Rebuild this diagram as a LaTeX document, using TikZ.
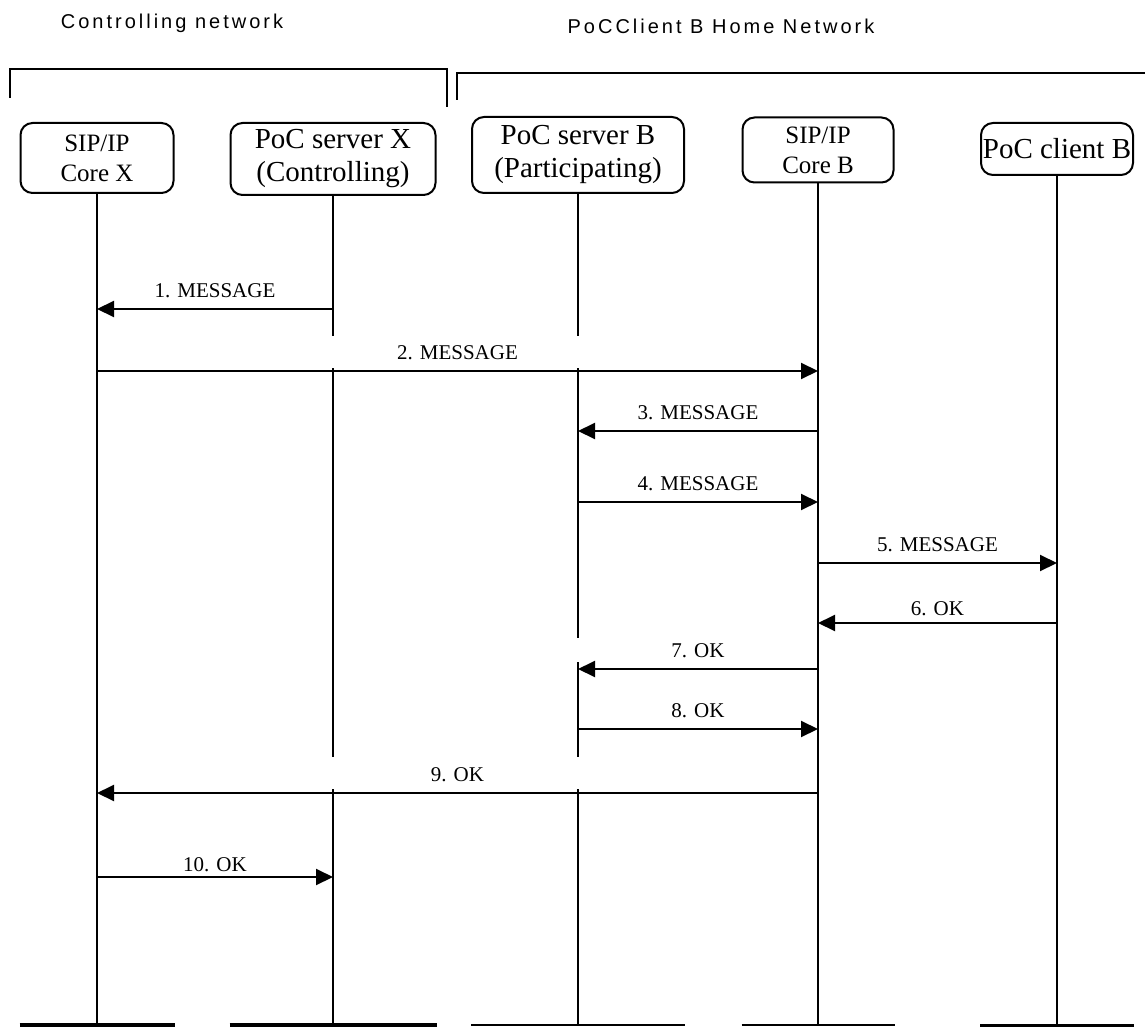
\documentclass[tikz,border=0pt]{standalone}
\usepackage{fontspec}
\setmainfont{Liberation Serif}
\newfontfamily\headfont[LetterSpace=15]{Liberation Sans}
\usetikzlibrary{arrows.meta}
\tikzset{
  every picture/.style={x=0.5pt, y=-0.5pt, line width=1pt},
  entity/.style={draw, rounded corners=6pt, align=center, inner sep=0pt, line width=1pt},
  core/.style={entity, font=\fontsize{12.5}{15}\selectfont},
  server/.style={entity, font=\fontsize{14.5}{16.5}\selectfont},
  lifeline/.style={line width=0.9pt},
  msg/.style={-{Triangle[length=8.5pt, width=8pt]}, line width=1pt},
  msglabel/.style={font=\fontsize{10.5}{12}\selectfont, inner sep=0pt, above=#1},
  msglabel/.default=5pt,
  bracket/.style={line width=1.1pt},
  header/.style={font=\headfont\fontsize{10}{12}\selectfont, anchor=base, inner sep=0pt},
  endbar/.style={line width=#1},
}
\begin{document}
\begin{tikzpicture}
  \useasboundingbox (0,0) rectangle (1145,1027);
  % network groups
  \node[header] (ctrlnet) at (172,29) {Controlling network};
  \node[header] (homenet) at (721,34) {PoCClient B Home Network};
  \draw[bracket] (10,98) |- (447,69) -- (447,107);
  \draw[bracket] (457,100) |- (1145,73);
  % entities
  \node[core,   minimum width=76.5pt, minimum height=35pt] (coreX)   at (97,158)   {SIP/IP\\Core X};
  \node[server, minimum width=102.5pt, minimum height=36pt] (srvX)   at (333,159)  {PoC server X\\(Controlling)};
  \node[server, minimum width=106pt, minimum height=38pt] (srvB)     at (578,155)  {PoC server B\\(Participating)};
  \node[core,   minimum width=75.5pt, minimum height=32.5pt] (coreB) at (818,150)  {SIP/IP\\Core B};
  \node[server, minimum width=76pt, minimum height=26pt] (clientB)   at (1057,149) {PoC client B};
  \coordinate (bottom) at (0,1024);
  % lifelines
  \foreach \n in {coreX,coreB,clientB} \draw[lifeline] (\n.south) -- (\n |- bottom);
  \draw[lifeline] (srvX.south) -- (srvX |- 0,336) (srvX |- 0,368) -- (srvX |- 0,757) (srvX |- 0,789) -- (srvX |- bottom);
  \draw[lifeline] (srvB.south) -- (srvB |- 0,336) (srvB |- 0,368) -- (srvB |- 0,638)
    (srvB |- 0,662) -- (srvB |- 0,757) (srvB |- 0,789) -- (srvB |- bottom);
  \foreach \n/\w in {coreX/2pt,srvX/2pt,srvB/1.1pt,coreB/1.1pt,clientB/1.5pt}
    \draw[endbar=\w] (\n.west |- 0,1025) -- (\n.east |- 0,1025);
  % messages
  \foreach \i/\y in {1/309,2/371,3/431,4/502,5/563,6/623,7/669,8/729,9/793,10/877}
    \coordinate (m\i) at (0,\y);
  \foreach \i/\a/\b/\t/\d in {1/srvX/coreX/MESSAGE/5pt, 2/coreX/coreB/MESSAGE/5pt,
      3/coreB/srvB/MESSAGE/5pt, 4/srvB/coreB/MESSAGE/5pt, 5/coreB/clientB/MESSAGE/5pt,
      6/clientB/coreB/OK/3pt, 7/coreB/srvB/OK/5pt, 8/srvB/coreB/OK/5pt,
      9/coreB/coreX/OK/5pt, 10/coreX/srvX/OK/2pt}
    \draw[msg] (\a |- m\i) -- node[msglabel=\d] {\i. \t} (\b |- m\i);
\end{tikzpicture}
\end{document}
